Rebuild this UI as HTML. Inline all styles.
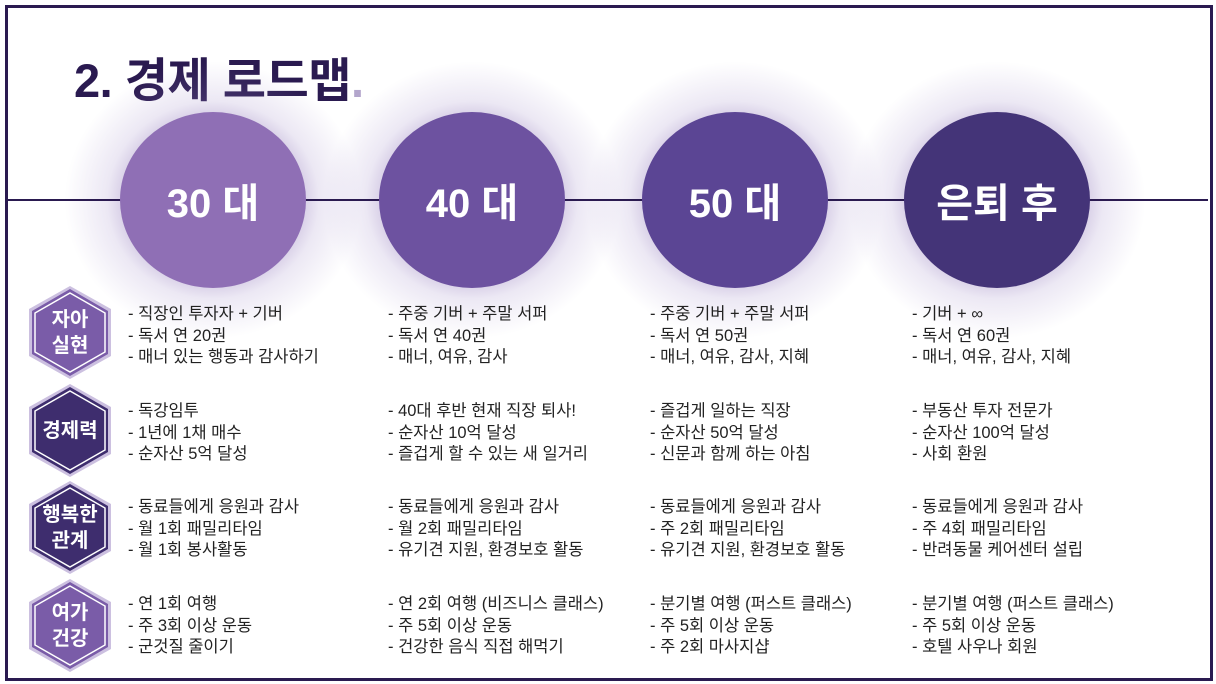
<!DOCTYPE html>
<html><head><meta charset="utf-8"><style>
body{margin:0;width:1216px;height:684px;background:#fff;position:relative;overflow:hidden;font-family:"Liberation Sans","Noto Sans CJK KR",sans-serif}
.frame{position:absolute;left:5px;top:5px;width:1202px;height:670px;border:3px solid #2a1a50}
.title{position:absolute;left:74px;top:42px;font-size:47px;font-weight:bold;color:#2a1a50;letter-spacing:-0.5px}
.title span{color:#b3a6cc}
.line{position:absolute;left:8px;top:199px;width:1200px;height:2px;background:#2a1a50}
.c{position:absolute;width:186px;height:176px;border-radius:50%;color:#fff;font-size:40px;font-weight:bold;display:flex;align-items:center;justify-content:center;top:112px}
.g{position:absolute;width:300px;height:280px;border-radius:50%;top:60px;background:radial-gradient(ellipse at center,rgba(120,90,170,.55) 30%,rgba(160,140,200,.2) 50%,rgba(255,255,255,0) 70%)}
.t{position:absolute;font-size:16.5px;line-height:21.5px;color:#222;white-space:nowrap}
.hx{position:absolute;left:28px;width:84px;height:95px}
.hx div{position:absolute;left:0;top:0;width:84px;height:95px;display:flex;align-items:center;justify-content:center;text-align:center;color:#fff;font-size:20px;font-weight:bold;line-height:26px}
</style></head><body>
<div class="frame"></div>
<div class="title">2. 경제 로드맵<span>.</span></div>
<div class="g" style="left:63px"></div><div class="g" style="left:322px"></div><div class="g" style="left:585px"></div><div class="g" style="left:847px"></div>
<div class="line"></div>
<div class="c" style="left:120px;background:#8f6fb5">30 대</div>
<div class="c" style="left:379px;background:#6d52a0">40 대</div>
<div class="c" style="left:642px;background:#5b4594">50 대</div>
<div class="c" style="left:904px;background:#443478">은퇴 후</div>

<div class="hx" style="top:285px"><svg width="84" height="95"><polygon points="42,1 83,24 83,71 42,94 1,71 1,24" fill="#ccc0e0"/><polygon points="42,4 80,26 80,69 42,91 4,69 4,26" fill="#7a5ca8"/><polygon points="42,8 77,28 77,67 42,87 7,67 7,28" fill="none" stroke="#fff" stroke-width="1.5"/></svg><div>자아<br>실현</div></div>
<div class="hx" style="top:383px"><svg width="84" height="95"><polygon points="42,1 83,24 83,71 42,94 1,71 1,24" fill="#ccc0e0"/><polygon points="42,4 80,26 80,69 42,91 4,69 4,26" fill="#3e2d6e"/><polygon points="42,8 77,28 77,67 42,87 7,67 7,28" fill="none" stroke="#fff" stroke-width="1.5"/></svg><div>경제력</div></div>
<div class="hx" style="top:480px"><svg width="84" height="95"><polygon points="42,1 83,24 83,71 42,94 1,71 1,24" fill="#ccc0e0"/><polygon points="42,4 80,26 80,69 42,91 4,69 4,26" fill="#3e2d6e"/><polygon points="42,8 77,28 77,67 42,87 7,67 7,28" fill="none" stroke="#fff" stroke-width="1.5"/></svg><div>행복한<br>관계</div></div>
<div class="hx" style="top:578px"><svg width="84" height="95"><polygon points="42,1 83,24 83,71 42,94 1,71 1,24" fill="#ccc0e0"/><polygon points="42,4 80,26 80,69 42,91 4,69 4,26" fill="#7a5ca8"/><polygon points="42,8 77,28 77,67 42,87 7,67 7,28" fill="none" stroke="#fff" stroke-width="1.5"/></svg><div>여가<br>건강</div></div>

<div class="t" style="left:128px;top:304px">- 직장인 투자자 + 기버<br>- 독서 연 20권<br>- 매너 있는 행동과 감사하기</div>
<div class="t" style="left:388px;top:304px">- 주중 기버 + 주말 서퍼<br>- 독서 연 40권<br>- 매너, 여유, 감사</div>
<div class="t" style="left:650px;top:304px">- 주중 기버 + 주말 서퍼<br>- 독서 연 50권<br>- 매너, 여유, 감사, 지혜</div>
<div class="t" style="left:912px;top:304px">- 기버 + ∞<br>- 독서 연 60권<br>- 매너, 여유, 감사, 지혜</div>

<div class="t" style="left:128px;top:401px">- 독강임투<br>- 1년에 1채 매수<br>- 순자산 5억 달성</div>
<div class="t" style="left:388px;top:401px">- 40대 후반 현재 직장 퇴사!<br>- 순자산 10억 달성<br>- 즐겁게 할 수 있는 새 일거리</div>
<div class="t" style="left:650px;top:401px">- 즐겁게 일하는 직장<br>- 순자산 50억 달성<br>- 신문과 함께 하는 아침</div>
<div class="t" style="left:912px;top:401px">- 부동산 투자 전문가<br>- 순자산 100억 달성<br>- 사회 환원</div>

<div class="t" style="left:128px;top:497px">- 동료들에게 응원과 감사<br>- 월 1회 패밀리타임<br>- 월 1회 봉사활동</div>
<div class="t" style="left:388px;top:497px">- 동료들에게 응원과 감사<br>- 월 2회 패밀리타임<br>- 유기견 지원, 환경보호 활동</div>
<div class="t" style="left:650px;top:497px">- 동료들에게 응원과 감사<br>- 주 2회 패밀리타임<br>- 유기견 지원, 환경보호 활동</div>
<div class="t" style="left:912px;top:497px">- 동료들에게 응원과 감사<br>- 주 4회 패밀리타임<br>- 반려동물 케어센터 설립</div>

<div class="t" style="left:128px;top:594px">- 연 1회 여행<br>- 주 3회 이상 운동<br>- 군것질 줄이기</div>
<div class="t" style="left:388px;top:594px">- 연 2회 여행 (비즈니스 클래스)<br>- 주 5회 이상 운동<br>- 건강한 음식 직접 해먹기</div>
<div class="t" style="left:650px;top:594px">- 분기별 여행 (퍼스트 클래스)<br>- 주 5회 이상 운동<br>- 주 2회 마사지샵</div>
<div class="t" style="left:912px;top:594px">- 분기별 여행 (퍼스트 클래스)<br>- 주 5회 이상 운동<br>- 호텔 사우나 회원</div>
</body></html>
